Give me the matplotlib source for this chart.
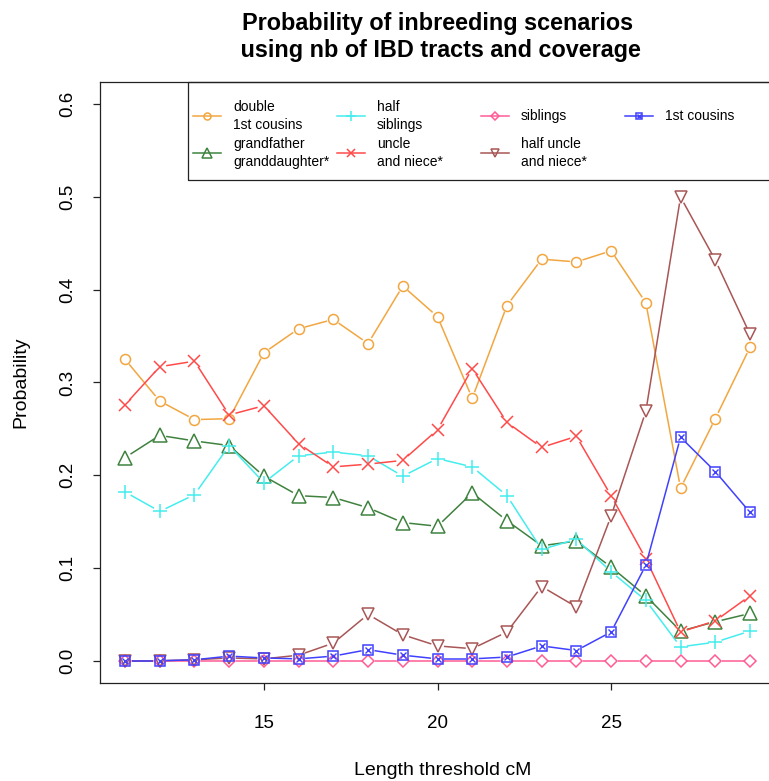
import numpy as np
import matplotlib
matplotlib.use("Agg")
import matplotlib.pyplot as plt

plt.rcParams["font.family"] = ["Liberation Sans", "DejaVu Sans"]

# length thresholds (cM) and scenario probabilities
THRESHOLDS = list(range(11, 30))
DOUBLE_1ST = [0.325, 0.280, 0.260, 0.261, 0.332, 0.358, 0.368, 0.342, 0.404, 0.371,
              0.283, 0.383, 0.433, 0.430, 0.442, 0.386, 0.186, 0.261, 0.338]
GRANDFATHER = [0.219, 0.243, 0.237, 0.232, 0.199, 0.178, 0.176, 0.165, 0.149, 0.145,
               0.181, 0.151, 0.124, 0.129, 0.101, 0.070, 0.032, 0.042, 0.051]
HALF_SIBS = [0.182, 0.161, 0.179, 0.232, 0.192, 0.221, 0.225, 0.221, 0.199, 0.218,
             0.209, 0.178, 0.120, 0.131, 0.096, 0.065, 0.015, 0.020, 0.032]
UNCLE_NIECE = [0.276, 0.317, 0.323, 0.265, 0.275, 0.234, 0.209, 0.212, 0.216, 0.249,
               0.315, 0.257, 0.230, 0.242, 0.178, 0.110, 0.031, 0.043, 0.070]
SIBLINGS = [0.0] * 19
HALF_UNCLE = [0.000, 0.000, 0.001, 0.003, 0.002, 0.006, 0.019, 0.050, 0.028, 0.016,
              0.013, 0.031, 0.080, 0.058, 0.156, 0.269, 0.500, 0.432, 0.352]
COUSINS_1ST = [0.000, 0.000, 0.001, 0.005, 0.003, 0.002, 0.005, 0.012, 0.006, 0.002,
               0.002, 0.004, 0.016, 0.011, 0.031, 0.103, 0.241, 0.204, 0.160]

LABELS = ["double\n1st cousins", "grandfather\ngranddaughter*", "half\nsiblings",
          "uncle\nand niece*", "siblings", "half uncle\nand niece*", "1st cousins"]
SERIES = [DOUBLE_1ST, GRANDFATHER, HALF_SIBS, UNCLE_NIECE, SIBLINGS, HALF_UNCLE, COUSINS_1ST]

# colour, marker, marker size per series ("sx" = square with a cross)
STYLES = [("#F2A640", "o", 7.2), ("#3F823F", "^", 9.5), ("#45EDED", "+", 10.5),
          ("#FF4A4A", "x", 8.0), ("#FF5C96", "D", 6.2), ("#A85656", "v", 9.0),
          ("#4040FF", "sx", 6.8)]

GAP_PX = 6.5


def draw_marker(ax, x, y, color, marker, ms, **kw):
    if marker == "sx":
        ax.plot(x, y, ls="none", marker="s", ms=ms, mfc="none", mec=color, mew=1.1, **kw)
        ax.plot(x, y, ls="none", marker="x", ms=ms * 0.7, mec=color, mew=1.0, **kw)
    else:
        ax.plot(x, y, ls="none", marker=marker, ms=ms, mfc="none", mec=color, mew=1.1, **kw)


def gapped_line(ax, x, y, color):
    # segments between points, cut back around each marker (R type="b")
    pts = ax.transData.transform(np.column_stack([x, y]))
    inv = ax.transData.inverted()
    for p, q in zip(pts[:-1], pts[1:]):
        d = q - p
        length = np.hypot(*d)
        if length <= 2 * GAP_PX:
            continue
        u = d / length
        seg = inv.transform(np.vstack([p + u * GAP_PX, q - u * GAP_PX]))
        ax.plot(seg[:, 0], seg[:, 1], color=color, lw=1.1, solid_capstyle="butt")


W, H = 769, 781
fig = plt.figure(figsize=(W / 100, H / 100), dpi=100)
ax = fig.add_axes([100 / W, 1 - 683 / H, 675 / W, 601 / H])
ax.set_xlim(10.28, 29.72)
ax.set_ylim(-0.024, 0.624)

for vals, (color, marker, ms) in zip(SERIES, STYLES):
    gapped_line(ax, THRESHOLDS, vals, color)
    draw_marker(ax, THRESHOLDS, vals, color, marker, ms)

ax.set_xticks([15, 20, 25])
ax.set_yticks(np.arange(0, 0.61, 0.1))
ax.set_yticklabels([f"{v:.1f}" for v in np.arange(0, 0.61, 0.1)], rotation=90, va="center")
ax.tick_params(axis="both", length=5, width=0.9, labelsize=13.5, color="#222222")
ax.tick_params(axis="x", pad=18)
ax.tick_params(axis="y", pad=12)
for s in ax.spines.values():
    s.set_linewidth(0.9)
    s.set_color("#222222")

ax.set_xlabel("Length threshold cM", fontsize=14)
ax.set_ylabel("Probability", fontsize=14)
ax.xaxis.set_label_coords(0.508, -0.132)
ax.yaxis.set_label_coords(-0.105, 0.5)
ax.set_title("Probability of inbreeding scenarios\n using nb of IBD tracts and coverage",
             fontsize=16.8, fontweight="bold", pad=18, linespacing=1.2)

# legend box, four columns filled top-to-bottom
box = plt.Rectangle((0.1304, 0.837), 0.8696, 0.163, transform=ax.transAxes,
                    fill=False, lw=0.9, ec="#222222", clip_on=False, zorder=5)
ax.add_patch(box)
col_x = [0.1378, 0.3511, 0.5644, 0.7778]
row_y = [0.9434, 0.8819]
for i, (lab, (color, marker, ms)) in enumerate(zip(LABELS, STYLES)):
    cx, ry = col_x[i // 2], row_y[i % 2]
    ax.plot([cx, cx + 0.0415], [ry, ry], color=color, lw=1.1,
            transform=ax.transAxes, clip_on=False, zorder=6)
    draw_marker(ax, [cx + 0.0207], [ry], color, marker, ms * 0.7,
                transform=ax.transAxes, clip_on=False, zorder=6)
    ax.text(cx + 0.0593, ry, lab, transform=ax.transAxes, fontsize=10,
            ha="left", va="center", linespacing=1.4, zorder=6)

fig.savefig("out.png", dpi=100)
